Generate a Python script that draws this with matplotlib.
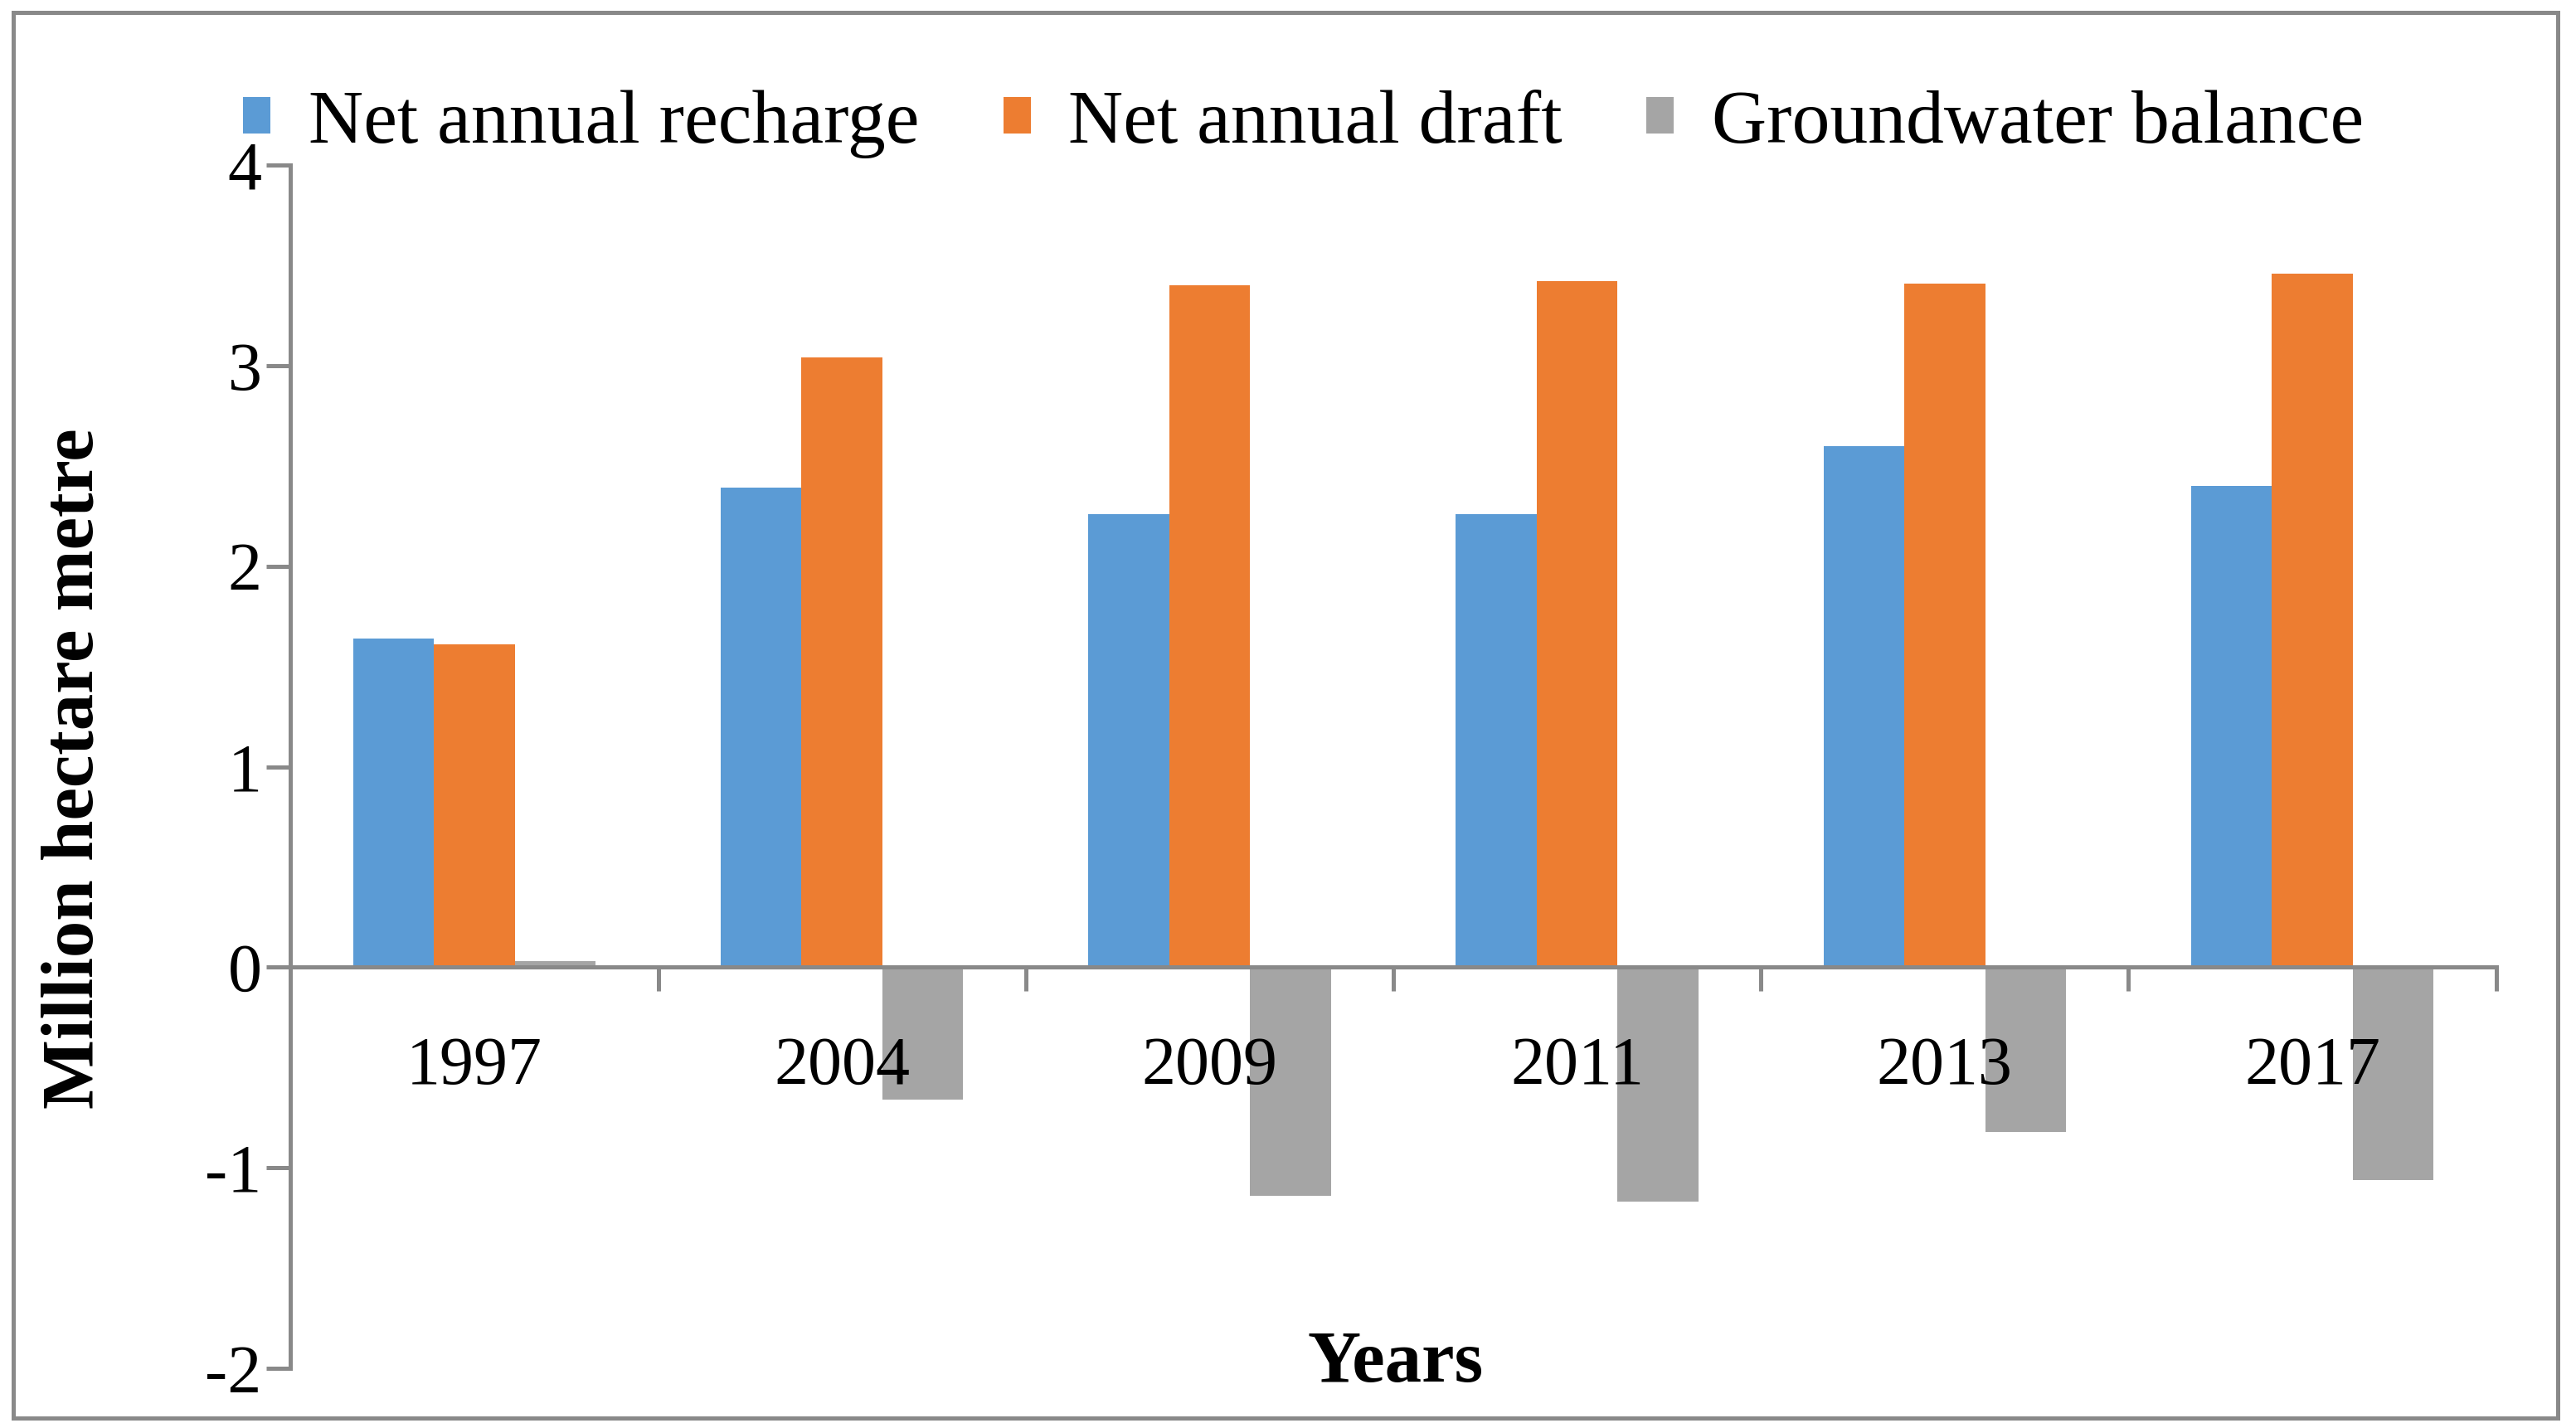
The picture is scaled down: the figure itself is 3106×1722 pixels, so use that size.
import numpy as np
import matplotlib.pyplot as plt
from matplotlib.patches import Rectangle

years = ['1997', '2004', '2009', '2011', '2013', '2017']
recharge = [1.64, 2.39, 2.26, 2.26, 2.60, 2.40]
draft = [1.61, 3.04, 3.40, 3.42, 3.41, 3.46]
balance = [0.03, -0.66, -1.14, -1.17, -0.82, -1.06]
series_names = ['Net annual recharge', 'Net annual draft', 'Groundwater balance']
colors = ['#5B9BD5', '#ED7D31', '#A5A5A5']

axis_grey = '#898989'
fs = 29.5

plt.rcParams['font.family'] = ['Liberation Serif', 'DejaVu Serif']

fig = plt.figure(figsize=(15.53, 8.61), dpi=200)
ax = fig.add_axes([0.1128, 0.0418, 0.969 - 0.1128, 0.8844 - 0.0418])

x = np.arange(len(years))
w = 0.22
for i, (vals, name) in enumerate(zip([recharge, draft, balance], series_names)):
    # default zorder keeps the year labels on top of the bars
    ax.bar(x + (i - 1) * w, vals, width=w, color=colors[i], label=name)

ax.set_xlim(-0.5, len(years) - 0.5)
ax.set_ylim(-2, 4)
ax.set_yticks([-2, -1, 0, 1, 2, 3, 4])
ax.set_yticklabels(['-2', '-1', '0', '1', '2', '3', '4'], fontsize=fs)

# category axis sits at zero
ax.spines['bottom'].set_position(('data', 0))
ax.spines['top'].set_visible(False)
ax.spines['right'].set_visible(False)
for s in ['left', 'bottom']:
    ax.spines[s].set_color(axis_grey)
    ax.spines[s].set_linewidth(1.8)

ax.set_xticks(x)
ax.set_xticklabels(years, fontsize=fs)
ax.set_xticks(np.arange(-0.5, len(years)), minor=True)
ax.tick_params(axis='x', which='major', length=0, pad=30)
ax.tick_params(axis='x', which='minor', length=10.5, width=1.8, color=axis_grey, direction='out')
ax.tick_params(axis='y', length=10.5, width=1.8, color=axis_grey, direction='out', pad=2)

fig.text(0.029, 0.462, 'Million hectare metre', rotation=90, ha='center', va='center',
         fontsize=32, fontweight='bold')
fig.text(0.5417, 0.045, 'Years', ha='center', va='center', fontsize=32, fontweight='bold')

fig.legend(loc='center', bbox_to_anchor=(0.506, 0.913), ncol=3, frameon=False, fontsize=33,
           handlelength=0.36, handleheight=0.36, handletextpad=0.5, columnspacing=1.1)

# outer chart border
fig.patches.append(Rectangle((0.005, 0.007), 0.988, 0.984, transform=fig.transFigure,
                             fill=False, edgecolor=axis_grey, linewidth=1.8))

fig.savefig('out.png', dpi=200)
